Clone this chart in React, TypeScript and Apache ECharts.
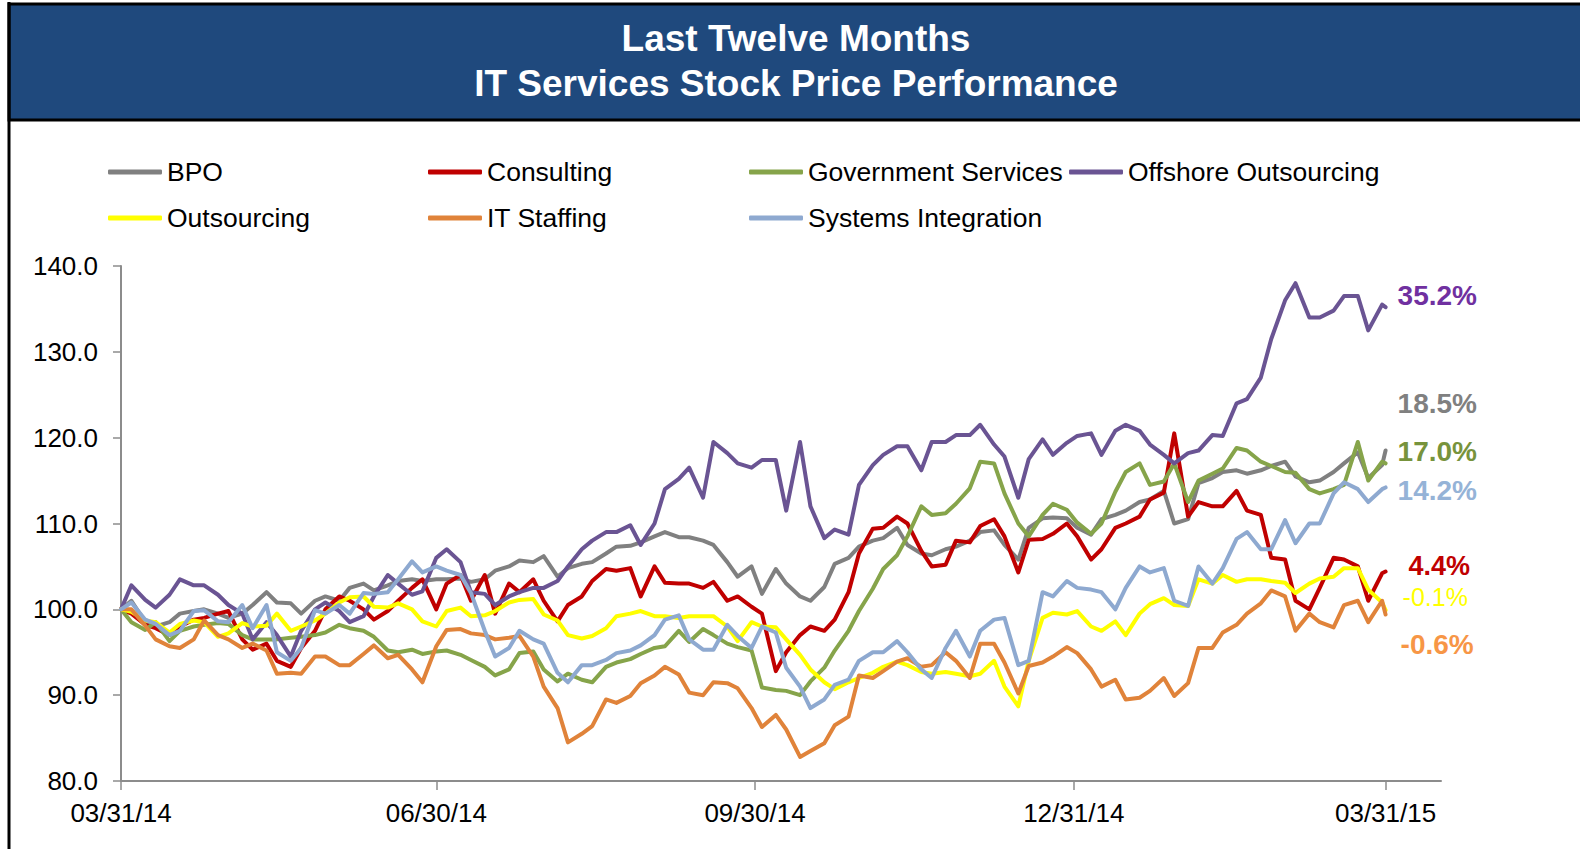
import React, { useEffect, useRef } from "react";
import * as echarts from "echarts";

const dates = [
  "2014-03-31","2014-04-03","2014-04-07","2014-04-10","2014-04-14","2014-04-17","2014-04-21","2014-04-24","2014-04-28","2014-05-01",
  "2014-05-05","2014-05-08","2014-05-12","2014-05-15","2014-05-19","2014-05-22","2014-05-26","2014-05-29","2014-06-02","2014-06-05",
  "2014-06-09","2014-06-12","2014-06-16","2014-06-19","2014-06-23","2014-06-26","2014-06-30","2014-07-03","2014-07-07","2014-07-10",
  "2014-07-14","2014-07-17","2014-07-21","2014-07-24","2014-07-28","2014-07-31","2014-08-04","2014-08-07","2014-08-11","2014-08-14",
  "2014-08-18","2014-08-21","2014-08-25","2014-08-28","2014-09-01","2014-09-04","2014-09-08","2014-09-11","2014-09-15","2014-09-18",
  "2014-09-22","2014-09-25","2014-09-29","2014-10-02","2014-10-06","2014-10-09","2014-10-13","2014-10-16","2014-10-20","2014-10-23",
  "2014-10-27","2014-10-30","2014-11-03","2014-11-06","2014-11-10","2014-11-13","2014-11-17","2014-11-20","2014-11-24","2014-11-27",
  "2014-12-01","2014-12-04","2014-12-08","2014-12-11","2014-12-15","2014-12-18","2014-12-22","2014-12-25","2014-12-29","2015-01-01",
  "2015-01-05","2015-01-08","2015-01-12","2015-01-15","2015-01-19","2015-01-22","2015-01-26","2015-01-29","2015-02-02","2015-02-05",
  "2015-02-09","2015-02-12","2015-02-16","2015-02-19","2015-02-23","2015-02-26","2015-03-02","2015-03-05","2015-03-09","2015-03-12",
  "2015-03-16","2015-03-19","2015-03-23","2015-03-26","2015-03-30","2015-03-31"
];

const bpo = [
  100.0, 101.0, 98.5, 98.0, 98.5, 99.5, 99.8, 100.0, 99.5, 99.0,
  99.5, 100.5, 102.0, 100.8, 100.7, 99.5, 101.0, 101.5, 101.0, 102.5,
  103.0, 102.2, 102.8, 103.3, 103.5, 103.3, 103.5, 103.5, 103.6, 103.2,
  103.5, 104.5, 105.0, 105.7, 105.5, 106.2, 103.8, 104.8, 105.3, 105.5,
  106.5, 107.3, 107.4, 107.8, 108.5, 109.0, 108.4, 108.4, 108.0, 107.5,
  105.5, 103.8, 105.0, 101.8, 104.7, 103.0, 101.5, 101.0, 102.6, 105.3,
  106.0, 107.3, 108.0, 108.3, 109.5, 107.5, 106.5, 106.3, 107.0, 107.3,
  108.0, 109.0, 109.2, 107.5, 105.8, 109.5, 110.6, 110.7, 110.6, 109.5,
  108.7, 110.5, 111.0, 111.5, 112.5, 112.8, 113.8, 110.0, 110.5, 114.7,
  115.3, 116.0, 116.2, 115.8, 116.2, 116.7, 117.2, 115.5, 114.8, 115.0,
  116.0, 117.0, 118.3, 115.3, 116.8, 118.5
];

const consulting = [
  100.0, 99.5, 98.2, 97.8, 97.0, 98.0, 98.8, 99.0, 99.5, 99.8,
  96.5, 95.3, 96.0, 94.0, 93.3, 95.5, 97.5, 100.0, 101.5, 101.0,
  100.0, 98.8, 99.8, 101.0, 102.5, 103.5, 100.0, 103.0, 104.0, 101.0,
  104.0, 99.5, 103.0, 102.0, 103.5, 101.0, 98.6, 100.5, 101.5, 103.3,
  104.7, 104.5, 104.8, 101.5, 105.0, 103.1, 103.0, 103.0, 102.5, 103.2,
  101.0, 101.5, 100.3, 99.5, 92.8, 95.0, 97.0, 98.0, 97.5, 98.8,
  102.0, 106.5, 109.4, 109.5, 110.8, 110.0, 106.8, 105.0, 105.2, 108.0,
  107.8, 109.7, 110.5, 108.5, 104.3, 108.1, 108.2, 108.8, 110.0, 108.5,
  105.8, 107.0, 109.5, 110.0, 110.8, 112.8, 113.6, 120.5, 110.8, 112.5,
  112.0, 112.0, 113.8, 111.5, 111.0, 106.0, 105.8, 101.0, 100.0, 102.5,
  106.0, 105.8, 105.0, 101.0, 104.2, 104.4
];

const government = [
  100.0, 98.5, 97.6, 98.5, 96.3, 97.5, 98.0, 98.2, 98.4, 98.3,
  97.0, 96.5, 96.5, 96.5, 96.7, 96.8, 97.0, 97.3, 98.2, 97.8,
  97.5, 96.8, 95.2, 95.0, 95.3, 94.8, 95.1, 95.2, 94.7, 94.1,
  93.3, 92.3, 93.0, 94.9, 95.1, 93.0, 91.6, 92.5, 91.8, 91.5,
  93.3, 93.8, 94.2, 94.8, 95.5, 95.7, 97.5, 96.2, 97.7, 97.0,
  96.0, 95.6, 95.2, 90.9, 90.6, 90.5, 90.0, 91.6, 93.2, 95.2,
  97.5, 99.8, 102.4, 104.7, 106.3, 108.5, 112.0, 111.0, 111.2, 112.3,
  114.1, 117.2, 117.0, 113.5, 110.0, 108.5, 111.0, 112.3, 111.6, 110.1,
  108.8, 110.0, 113.7, 116.0, 117.0, 114.5, 114.9, 117.0, 112.5, 115.0,
  115.8, 116.4, 118.8, 118.5, 117.2, 116.7, 116.0, 115.9, 114.0, 113.5,
  114.0, 114.5, 119.5, 115.0, 117.2, 117.0
];

const offshore = [
  100.0, 102.8, 101.1, 100.2, 101.7, 103.5, 102.8, 102.8, 101.7, 100.5,
  99.5, 96.5, 98.5, 97.0, 94.5, 97.5, 100.0, 100.8, 99.8, 98.5,
  99.2, 101.5, 104.0, 103.0, 101.7, 102.1, 106.0, 107.0, 105.5, 102.0,
  101.8, 100.5, 101.5, 102.0, 102.5, 102.5, 103.3, 105.0, 107.0, 108.0,
  109.0, 109.0, 109.8, 107.5, 110.0, 114.0, 115.2, 116.5, 113.0, 119.5,
  118.2, 117.0, 116.5, 117.4, 117.4, 111.5, 119.5, 112.0, 108.3, 109.3,
  108.7, 114.5, 116.8, 118.0, 119.0, 119.0, 116.2, 119.5, 119.5, 120.3,
  120.3, 121.5, 119.2, 117.8, 113.0, 117.5, 119.8, 118.0, 119.4, 120.2,
  120.5, 118.0, 120.8, 121.5, 120.8, 119.2, 118.0, 117.0, 118.2, 118.5,
  120.3, 120.2, 124.0, 124.5, 127.0, 131.5, 136.0, 138.0, 134.0, 134.0,
  134.8, 136.5, 136.5, 132.5, 135.5, 135.2
];

const outsourcing = [
  100.0, 99.7, 98.7, 98.5, 97.3, 98.3, 98.7, 98.5, 96.8, 97.2,
  98.4, 98.0, 98.1, 99.5, 97.5, 98.0, 98.7, 99.5, 100.8, 101.4,
  101.5, 100.3, 100.2, 100.7, 100.0, 98.6, 98.0, 99.8, 100.2, 99.2,
  99.3, 99.8, 100.8, 101.1, 101.2, 99.4, 98.7, 97.0, 96.6, 96.9,
  97.8, 99.2, 99.5, 99.8, 99.2, 99.2, 99.0, 99.2, 99.2, 99.2,
  98.0, 96.3, 98.5, 98.0, 97.9, 96.5, 94.7, 93.0, 91.5, 90.7,
  91.5, 92.0, 92.6, 93.3, 93.9, 93.5, 92.7, 92.5, 92.7, 92.5,
  92.2, 92.5, 94.0, 91.0, 88.7, 94.0, 99.0, 99.6, 99.4, 99.8,
  98.0, 97.5, 98.6, 97.0, 99.5, 100.6, 101.3, 100.5, 100.4, 103.5,
  103.0, 104.0, 103.2, 103.5, 103.5, 103.3, 103.1, 101.9, 103.0, 103.6,
  103.8, 104.8, 104.8, 102.3, 100.8, 99.9
];

const itStaffing = [
  100.0, 100.0, 98.1, 96.5, 95.7, 95.5, 96.5, 98.7, 97.0, 96.5,
  95.5, 96.0, 95.2, 92.5, 92.6, 92.5, 94.5, 94.5, 93.5, 93.5,
  94.8, 95.8, 94.3, 94.7, 93.0, 91.5, 95.7, 97.6, 97.7, 97.2,
  97.0, 96.5, 96.7, 96.9, 94.5, 91.0, 88.5, 84.5, 85.5, 86.4,
  89.5, 89.1, 89.9, 91.4, 92.3, 93.3, 92.4, 90.3, 90.0, 91.5,
  91.4, 90.8, 88.5, 86.3, 87.7, 86.0, 82.8, 83.5, 84.4, 86.5,
  87.5, 92.3, 92.0, 92.8, 93.9, 94.3, 93.3, 93.5, 95.0, 94.0,
  92.0, 96.0, 96.0, 93.8, 90.2, 93.4, 93.8, 94.5, 95.6, 94.9,
  93.0, 91.0, 91.8, 89.5, 89.7, 90.5, 92.0, 89.9, 91.4, 95.5,
  95.5, 97.3, 98.2, 99.5, 100.7, 102.2, 101.5, 97.5, 99.5, 98.5,
  97.9, 100.5, 101.0, 98.5, 101.0, 99.4
];

const systemsIntegration = [
  100.0, 100.8, 98.8, 98.3, 97.0, 97.5, 99.8, 99.9, 98.6, 98.5,
  100.5, 97.8, 100.5, 95.0, 94.0, 95.5, 99.9, 99.5, 100.5, 99.5,
  101.9, 101.8, 102.0, 103.5, 105.6, 104.3, 105.0, 104.5, 104.0, 101.9,
  97.5, 94.5, 95.5, 97.5, 96.5, 96.0, 92.6, 91.5, 93.5, 93.5,
  94.1, 94.9, 95.2, 95.8, 97.0, 98.8, 99.3, 96.5, 95.3, 95.3,
  98.2, 96.9, 95.5, 98.0, 97.3, 93.2, 91.0, 88.5, 89.5, 91.2,
  91.8, 94.0, 95.0, 95.0, 96.3, 95.0, 93.0, 92.0, 95.5, 97.5,
  94.5, 97.5, 98.8, 99.0, 93.5, 94.0, 102.0, 101.5, 103.3, 102.5,
  102.3, 102.0, 100.0, 102.5, 105.0, 104.3, 104.8, 101.0, 100.4, 105.0,
  103.0, 104.8, 108.2, 109.0, 107.0, 107.0, 110.4, 107.7, 110.0, 110.0,
  113.5, 114.8, 114.0, 112.5, 114.0, 114.2
];

const seriesNames = [
  "BPO", "Consulting", "Government Services", "Offshore Outsourcing",
  "Outsourcing", "IT Staffing", "Systems Integration"
];
const seriesValues = [bpo, consulting, government, offshore, outsourcing, itStaffing, systemsIntegration];
const lineColors = ["#808080", "#C00000", "#86A44A", "#6A5493", "#FFFF00", "#E0833A", "#8EA9D0"];
const endLabelColors = ["#808080", "#C00000", "#77933C", "#7030A0", "#FFFF00", "#F79646", "#95B3D7"];
const endLabelBold = [true, true, true, true, false, true, true];
const endLabelSize = [28, 27, 28, 28, 25, 28, 28];

const tickDates = ["2014-03-31", "2014-06-30", "2014-09-30", "2014-12-31", "2015-03-31"];
const tickLabels = ["03/31/14", "06/30/14", "09/30/14", "12/31/14", "03/31/15"];
const yTicks = [80, 90, 100, 110, 120, 130, 140];

const BASE = Date.UTC(2014, 2, 31);
function dayOf(s: string): number {
  const [y, m, d] = s.split("-").map(Number);
  return Math.round((Date.UTC(y, m - 1, d) - BASE) / 86400000);
}
const tickDays = tickDates.map(dayOf);

const FONT = "'Liberation Sans', Arial, Helvetica, sans-serif";

// layout (pixels)
const legendLeft = [108, 428, 749, 1069, 108, 428, 749];
const legendTop = [157, 157, 157, 157, 203, 203, 203];
const endOffsets: [number, number][] = [
  [12, -47], [23, -6], [12, -12], [12, -12], [17, -13], [15, 30], [12, 3]
];

export default function App() {
  const ref = useRef<HTMLDivElement>(null);
  useEffect(() => {
    if (!ref.current) return;
    const chart = echarts.init(ref.current, undefined, { renderer: "svg" });
    const series = seriesNames.map((name, i) => ({
      name,
      type: "line",
      data: dates.map((d, j) => [dayOf(d), seriesValues[i][j]]),
      showSymbol: false,
      symbol: "none",
      color: lineColors[i],
      lineStyle: { width: 4, color: lineColors[i], join: "round", cap: "round" },
      emphasis: { disabled: true },
      endLabel: {
        show: true,
        formatter: () => {
          const arr = seriesValues[i];
          return (arr[arr.length - 1] - 100).toFixed(1) + "%";
        },
        color: endLabelColors[i],
        fontFamily: FONT,
        fontSize: endLabelSize[i],
        fontWeight: endLabelBold[i] ? "bold" : "normal",
        distance: 0,
        offset: endOffsets[i],
        align: "left",
        verticalAlign: "middle",
      },
    }));
    const legends = seriesNames.map((name, i) => ({
      data: [name],
      left: legendLeft[i],
      top: legendTop[i],
      icon: "roundRect",
      itemWidth: 54,
      itemHeight: 5,
      padding: 0,
      selectedMode: false,
      textStyle: { fontFamily: FONT, fontSize: 26.5, color: "#000", lineHeight: 30 },
    }));
    chart.setOption({
      animation: false,
      backgroundColor: "#ffffff",
      textStyle: { fontFamily: FONT },
      grid: { left: 121, right: 139, top: 266, bottom: 68, containLabel: false },
      legend: legends,
      xAxis: {
        type: "value",
        min: 0,
        max: 381,
        axisLine: { show: true, lineStyle: { color: "#8C8C8C", width: 2 } },
        axisTick: { show: true, customValues: tickDays, length: 9, lineStyle: { color: "#8C8C8C", width: 1.5 } },
        axisLabel: {
          customValues: tickDays,
          formatter: (v: number) => {
            const k = tickDays.indexOf(Math.round(v));
            return k >= 0 ? tickLabels[k] : "";
          },
          fontFamily: FONT,
          fontSize: 26,
          color: "#000",
          margin: 19,
        },
        splitLine: { show: false },
      },
      yAxis: {
        type: "value",
        min: yTicks[0],
        max: yTicks[yTicks.length - 1],
        interval: 10,
        axisLine: { show: true, lineStyle: { color: "#8C8C8C", width: 2 } },
        axisTick: { show: true, length: 8, lineStyle: { color: "#8C8C8C", width: 1.5 } },
        axisLabel: {
          formatter: (v: number) => v.toFixed(1),
          fontFamily: FONT,
          fontSize: 26,
          color: "#000",
          margin: 23,
        },
        splitLine: { show: false },
      },
      graphic: [
        {
          type: "rect",
          shape: { x: 9, y: 4, width: 1580, height: 116 },
          style: { fill: "#1F497D", stroke: "#000", lineWidth: 3 },
          silent: true,
        },
        {
          type: "line",
          shape: { x1: 9, y1: 2, x2: 9, y2: 849 },
          style: { stroke: "#000", lineWidth: 3 },
          silent: true,
        },
        {
          type: "text",
          x: 796,
          y: 38,
          style: {
            text: "Last Twelve Months",
            fill: "#fff",
            font: "bold 37px " + FONT,
            textAlign: "center",
            textVerticalAlign: "middle",
          },
          silent: true,
        },
        {
          type: "text",
          x: 796,
          y: 83,
          style: {
            text: "IT Services Stock Price Performance",
            fill: "#fff",
            font: "bold 37px " + FONT,
            textAlign: "center",
            textVerticalAlign: "middle",
          },
          silent: true,
        },
      ],
      series,
    });
    return () => chart.dispose();
  }, []);
  return (
    <div
      ref={ref}
      style={{ position: "absolute", left: 0, top: 0, width: 1580, height: 849, background: "#fff" }}
    />
  );
}
